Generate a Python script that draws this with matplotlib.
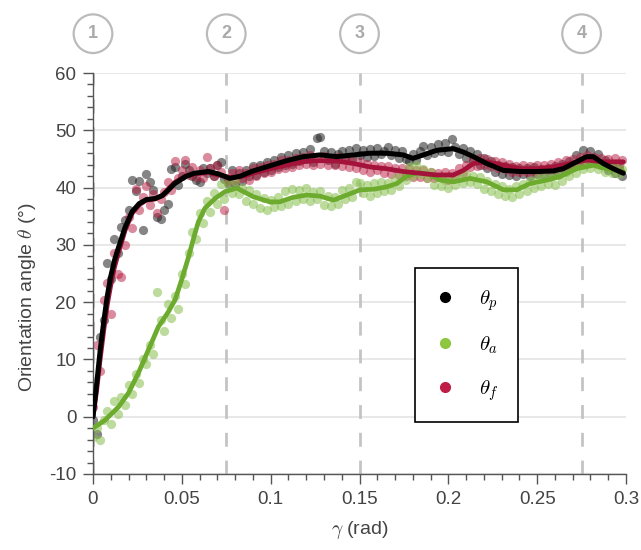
import matplotlib
matplotlib.use("Agg")
import matplotlib.pyplot as plt
from matplotlib.lines import Line2D
from matplotlib.ticker import MultipleLocator
import numpy as np

plt.rcParams['font.family'] = ['Liberation Sans', 'DejaVu Sans']
plt.rcParams['mathtext.fontset'] = 'cm'

# sampled strain values (mrad) shared by the three scatter series
gamma_pts = np.array([
    0, 2, 4, 6, 8, 10, 12, 14, 16, 18, 20, 22, 24, 26, 28, 30, 32, 34, 36, 38, 40, 42, 44, 46, 48,
    50, 52, 54, 56, 58, 60, 62, 64, 66, 68, 70, 72, 74, 76, 78, 80, 82, 84, 86, 88, 90, 92, 94, 96, 98,
    100, 102, 104, 106, 108, 110, 112, 114, 116, 118, 120, 122, 124, 126, 128, 130, 132, 134, 136, 138, 140, 142, 144, 146, 148,
    150, 152, 154, 156, 158, 160, 162, 164, 166, 168, 170, 172, 174, 176, 178, 180, 182, 184, 186, 188, 190, 192, 194, 196, 198,
    200, 202, 204, 206, 208, 210, 212, 214, 216, 218, 220, 222, 224, 226, 228, 230, 232, 234, 236, 238, 240, 242, 244, 246, 248,
    250, 252, 254, 256, 258, 260, 262, 264, 266, 268, 270, 272, 274, 276, 278, 280, 282, 284, 286, 288, 290, 292, 294, 296, 298,
]) / 1000.0

theta_p_pts = [
    -0.5, -3.0, 14.0, 16.9, 26.8, 24.0, 31.0, 28.5, 33.2, 34.3, 36.1, 41.3, 39.4, 41.2, 32.6, 42.4, 41.0, 39.6, 34.9, 34.6, 36.1, 37.2, 43.2, 43.6, 40.5,
    42.0, 44.2, 43.0, 42.0, 41.3, 41.0, 43.5, 42.5, 43.4, 42.0, 43.9, 44.5, 41.5, 40.8, 43.0, 40.5, 42.6, 41.2, 43.0, 42.0, 43.8, 42.2, 44.0, 42.8, 44.5,
    43.0, 44.9, 43.6, 45.3, 44.0, 45.6, 44.2, 46.0, 44.6, 46.2, 45.0, 46.8, 44.4, 48.6, 48.9, 46.3, 44.8, 46.2, 44.1, 45.9, 46.4, 45.0, 46.6, 45.2, 46.9,
    45.6, 46.5, 45.4, 46.8, 45.5, 46.9, 45.8, 46.4, 47.0, 45.6, 46.6, 45.2, 46.4, 45.0, 44.6, 45.8, 44.8, 46.4, 47.2, 45.6, 47.0, 46.0, 47.6, 46.3, 47.8,
    46.2, 48.4, 47.0, 45.8, 46.9, 45.2, 46.4, 44.6, 45.8, 44.0, 45.2, 43.4, 44.6, 42.8, 44.0, 42.4, 43.8, 42.2, 43.6, 42.0, 43.5, 42.3, 43.4, 42.0, 43.6,
    42.4, 43.2, 41.8, 43.4, 42.2, 43.8, 42.5, 44.2, 43.0, 44.6, 43.6, 45.6, 44.2, 46.6, 45.0, 46.3, 44.8, 45.8, 44.0, 44.8, 43.0, 44.2, 42.6, 43.4, 42.0,
]
theta_a_pts = [
    -3.5, -2.0, -4.0, -0.5, 1.0, -1.2, 2.8, 0.5, 3.5, 2.0, 5.5, 4.0, 7.5, 5.8, 10.0, 9.2, 12.6, 11.0, 21.8, 16.8, 15.0, 19.6, 17.2, 21.0, 18.8,
    25.0, 23.2, 28.6, 32.3, 31.0, 35.5, 33.8, 37.6, 35.8, 39.0, 37.2, 40.6, 38.0, 40.8, 39.0, 41.2, 38.8, 40.0, 37.6, 39.5, 37.2, 38.8, 36.4, 38.2, 36.0,
    37.9, 36.6, 38.4, 36.8, 39.4, 37.2, 39.8, 37.6, 39.6, 38.0, 39.9, 37.6, 39.2, 38.0, 39.4, 37.0, 38.6, 36.8, 38.4, 37.2, 39.6, 38.0, 40.0, 38.4, 41.0,
    40.8, 39.0, 40.4, 38.6, 40.8, 39.0, 41.0, 39.4, 40.8, 39.6, 41.6, 40.2, 42.6, 41.4, 43.6, 42.0, 44.0, 42.4, 43.2, 41.6, 42.8, 40.4, 41.8, 40.2, 41.4,
    40.0, 41.8, 40.4, 42.2, 40.8, 42.4, 41.0, 42.0, 40.6, 41.8, 39.8, 41.2, 39.4, 40.6, 38.8, 40.2, 38.6, 39.8, 38.4, 40.2, 38.8, 40.6, 39.4, 41.2, 40.0,
    41.6, 40.2, 42.0, 40.6, 41.8, 40.4, 42.2, 41.2, 42.8, 42.0, 43.8, 42.6, 44.2, 43.2, 44.6, 43.4, 44.4, 43.2, 44.0, 42.8, 43.8, 42.6, 43.6, 42.4, 43.2,
]
theta_f_pts = [
    1.7, 12.5, 8.0, 20.4, 23.3, 18.0, 28.5, 25.0, 24.4, 30.0, 34.8, 33.0, 39.8, 36.0, 38.4, 40.2, 37.0, 38.8, 35.6, 38.0, 39.2, 41.0, 39.6, 44.6, 41.6,
    43.0, 44.8, 42.2, 43.6, 41.8, 43.0, 41.6, 45.3, 43.4, 42.0, 44.0, 42.8, 36.1, 41.2, 42.6, 41.4, 43.0, 41.6, 42.6, 41.4, 43.4, 42.0, 43.6, 42.6, 44.0,
    42.8, 44.2, 43.2, 44.8, 43.4, 44.9, 43.6, 45.2, 44.0, 45.4, 44.2, 45.6, 44.0, 45.3, 44.2, 45.5, 44.0, 45.2, 44.0, 45.4, 43.8, 45.0, 43.6, 44.8, 43.4,
    44.4, 43.0, 44.2, 42.8, 44.0, 43.0, 43.8, 42.6, 43.8, 42.4, 43.4, 42.2, 43.4, 42.0, 43.2, 41.8, 43.0, 41.8, 43.0, 41.6, 42.8, 41.6, 42.6, 41.8, 42.8,
    41.4, 42.6, 42.0, 43.4, 42.6, 44.0, 43.6, 45.0, 43.8, 45.2, 44.0, 45.0, 43.8, 44.6, 43.4, 44.4, 43.2, 44.2, 42.8, 43.8, 42.8, 44.0, 42.8, 43.8, 42.8,
    44.0, 43.0, 44.0, 43.0, 44.2, 43.2, 44.4, 43.6, 44.8, 43.8, 45.0, 44.2, 45.4, 44.4, 45.6, 44.6, 45.4, 44.2, 45.2, 44.0, 45.0, 44.2, 45.2, 44.0, 44.8,
]

# smoothed curves
theta_p_x = [0, 0.002, 0.004, 0.006, 0.008, 0.010, 0.012, 0.0143, 0.018, 0.022, 0.026, 0.030, 0.035, 0.039, 0.0425,
             0.046, 0.052, 0.057, 0.065, 0.0705, 0.077, 0.083, 0.090, 0.0996, 0.109, 0.1184, 0.1278, 0.1372, 0.1465,
             0.156, 0.165, 0.1747, 0.180, 0.186, 0.1934, 0.2028, 0.2084, 0.2141, 0.2216, 0.231, 0.2403, 0.2497,
             0.259, 0.2647, 0.2722, 0.2778, 0.2816, 0.2872, 0.2928, 0.2985]
theta_p_y = [0, 5.5, 11.5, 16.5, 21, 24.5, 27.2, 29.5, 33.0, 35.8, 37.2, 37.9, 38.1, 38.6, 39.6,
             40.7, 41.9, 42.5, 42.8, 42.4, 41.6, 42.0, 42.9, 43.8, 44.7, 45.4, 45.7, 45.4, 45.7,
             46.0, 46.0, 45.7, 45.1, 45.7, 46.5, 46.8, 46.2, 45.4, 44.2, 43.0, 42.8, 42.8,
             42.9, 43.3, 44.5, 45.4, 45.4, 44.2, 43.3, 42.5]

theta_a_x = [0, 0.0068, 0.0143, 0.0199, 0.0255, 0.0311, 0.0368, 0.0424, 0.0462, 0.050, 0.0537, 0.057, 0.0593,
             0.063, 0.0687, 0.0743, 0.081, 0.0902, 0.0996, 0.105, 0.1127, 0.1202, 0.1278, 0.1353, 0.1428,
             0.1503, 0.1578, 0.165, 0.171, 0.1766, 0.183, 0.189, 0.1953, 0.2028, 0.2122, 0.2216, 0.231,
             0.2385, 0.246, 0.2553, 0.2628, 0.2722, 0.2816, 0.289, 0.2985]
theta_a_y = [-2.0, -0.6, 1.7, 4.1, 7.6, 11.6, 15.7, 18.3, 20.4, 24.0, 27.8, 31.6, 34.0,
             36.4, 38.1, 39.3, 39.9, 38.4, 37.5, 37.5, 38.3, 38.7, 38.5, 37.8, 38.7,
             39.6, 39.7, 40.1, 40.7, 42.0, 42.6, 42.3, 41.3, 41.0, 41.6, 41.0, 39.6,
             39.6, 40.7, 41.3, 41.9, 43.3, 43.9, 43.3, 42.8]

theta_f_x = [0, 0.002, 0.004, 0.006, 0.008, 0.010, 0.012, 0.014, 0.018, 0.022, 0.026, 0.030, 0.035, 0.039,
             0.0425, 0.046, 0.052, 0.057, 0.065, 0.0705, 0.077, 0.083, 0.090, 0.100, 0.110, 0.120, 0.1278,
             0.138, 0.1465, 0.156, 0.165, 0.1747, 0.184, 0.1934, 0.2028, 0.2084, 0.2141, 0.2216, 0.231,
             0.2403, 0.2497, 0.259, 0.2684, 0.2778, 0.2872, 0.2985]
theta_f_y = [0, 4.5, 10.0, 15.0, 19.5, 23.0, 26.0, 28.3, 32.5, 35.5, 37.0, 37.8, 38.0, 38.6,
             39.8, 40.9, 42.0, 42.4, 42.6, 42.2, 41.8, 41.9, 42.5, 43.3, 44.0, 44.6, 44.7,
             44.6, 44.2, 43.6, 43.3, 42.8, 42.5, 42.2, 42.2, 43.0, 44.2, 44.5, 43.9,
             43.3, 43.3, 43.6, 44.2, 44.8, 44.5, 44.5]

stage_x = [0, 0.075, 0.15, 0.275]
stage_labels = ['1', '2', '3', '4']
xtick_vals = [0, 0.05, 0.1, 0.15, 0.2, 0.25, 0.3]
xtick_labels = ['0', '0.05', '0.1', '0.15', '0.2', '0.25', '0.3']
ytick_vals = [-10, 0, 10, 20, 30, 40, 50, 60]
ytick_labels = ['-10', '0', '10', '20', '30', '40', '50', '60']

fig = plt.figure(figsize=(6.41, 5.5), dpi=100)
ax = fig.add_axes([93 / 641, 1 - 474 / 550, 533 / 641, 401 / 550])

ax.set_xlim(0, 0.3)
ax.set_ylim(-10, 60)
ax.yaxis.grid(True, color='#e4e4e4', lw=1.2)
ax.set_axisbelow(True)

for xs in stage_x:
    ax.axvline(xs, color='#c4c4c4', lw=2, ls=(0, (5, 5)), zorder=1)

ax.scatter(gamma_pts, theta_p_pts, s=44, color='#222222', alpha=0.55, lw=0, zorder=2)
ax.scatter(gamma_pts, theta_f_pts, s=44, color='#b8193f', alpha=0.5, lw=0, zorder=2)
ax.scatter(gamma_pts, theta_a_pts, s=44, color='#86bf4c', alpha=0.55, lw=0, zorder=2)

ax.plot(theta_a_x, theta_a_y, color='#6cab2d', lw=3.4, solid_capstyle='round', zorder=3)
ax.plot(theta_f_x, theta_f_y, color='#a3133a', lw=3.4, solid_capstyle='round', zorder=3)
ax.plot(theta_p_x, theta_p_y, color='black', lw=3.6, solid_capstyle='round', zorder=4)

for s in ['top', 'right']:
    ax.spines[s].set_visible(False)
for s in ['left', 'bottom']:
    ax.spines[s].set_color('#555555')
    ax.spines[s].set_linewidth(1)

ax.set_xticks(xtick_vals)
ax.set_xticklabels(xtick_labels)
ax.set_yticks(ytick_vals)
ax.set_yticklabels(ytick_labels)
ax.xaxis.set_minor_locator(MultipleLocator(0.01))
ax.yaxis.set_minor_locator(MultipleLocator(2))
ax.tick_params(which='major', direction='out', length=7, width=1, color='#555555',
               labelcolor='#444444', labelsize=13.5, pad=5)
ax.tick_params(which='minor', direction='out', length=4, width=1, color='#555555')

ax.set_xlabel(r'$\gamma$ (rad)', fontsize=14, color='#444444', labelpad=8)
ax.set_ylabel(r'Orientation angle $\theta$ (°)', fontsize=14, color='#444444')
ax.yaxis.set_label_coords((38 - 93) / 533, (474 - 297) / 401)

for xs, lab in zip(stage_x, stage_labels):
    ax.text(xs, 1.098, lab, transform=ax.get_xaxis_transform(), ha='center', va='center',
            fontsize=13, color='#aaaaaa', fontweight='bold', clip_on=False,
            bbox=dict(boxstyle='circle,pad=0.6', fc='white', ec='#bbbbbb', lw=1.6))

handles = [
    Line2D([], [], ls='', marker='o', markersize=7, color='black'),
    Line2D([], [], ls='', marker='o', markersize=7, color='#8dc63f'),
    Line2D([], [], ls='', marker='o', markersize=7, color='#be1e45'),
]
leg = ax.legend(handles, [r'$\theta_p$', r'$\theta_a$', r'$\theta_f$'],
                loc='upper left', bbox_to_anchor=((415 - 93) / 533, (474 - 268) / 401),
                borderaxespad=0, fontsize=15, frameon=True, fancybox=False,
                edgecolor='black', framealpha=1, handlelength=1, handletextpad=1.1,
                labelspacing=1.05, borderpad=0.95)
leg.get_frame().set_linewidth(1.2)

fig.savefig('out.png', dpi=100)
